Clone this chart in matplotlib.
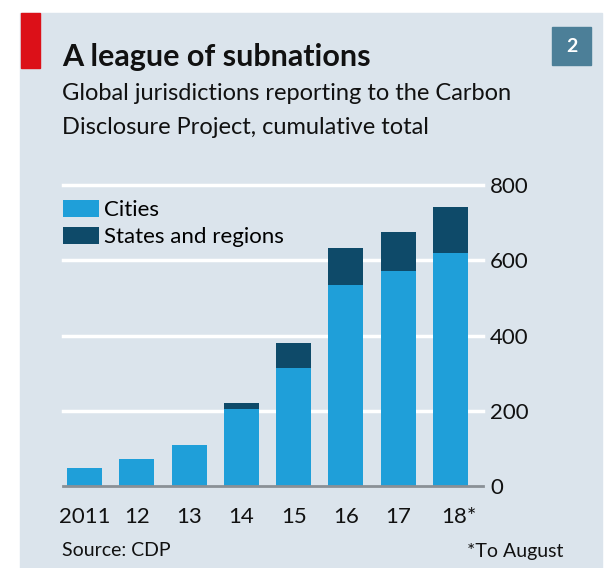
import matplotlib
matplotlib.use('Agg')
import matplotlib.pyplot as plt
import matplotlib.patches as mpatches
import matplotlib.transforms as mtransforms
from matplotlib import font_manager
import numpy as np

# Data
years = ['2011', '12', '13', '14', '15', '16', '17', '18*']
cities = [48, 72, 109, 205, 314, 535, 572, 620]
states = [0, 0, 0, 16, 66, 98, 103, 122]
yticks = [0, 200, 400, 600, 800]

# font: narrow one if we have it
installed = {f.name for f in font_manager.fontManager.ttflist}
FONT = 'Liberation Sans Narrow' if 'Liberation Sans Narrow' in installed else 'Lato'
plt.rcParams['font.family'] = [FONT, 'DejaVu Sans']

BG = '#dbe4ec'
CITY = '#1f9fd9'
STATE = '#0e4a69'
W, H = 605, 568

fig = plt.figure(figsize=(W / 100, H / 100), dpi=100)
fig.patch.set_facecolor('white')

# panel background, red tab, number badge
fig.patches.append(mpatches.Rectangle((20 / W, 0), 582 / W, 1 - 13 / H,
                                      transform=fig.transFigure, color=BG, zorder=-10))
fig.patches.append(mpatches.Rectangle((21 / W, 1 - 68 / H), 19 / W, 55 / H,
                                      transform=fig.transFigure, color='#dc1018', zorder=-5))
fig.patches.append(mpatches.Rectangle((552 / W, 1 - 65 / H), 39 / W, 38 / H,
                                      transform=fig.transFigure, color='#4c7f98', zorder=-5))
fig.text(571.5 / W, 1 - 46 / H, '2', color='white', fontsize=14, fontweight='bold',
         ha='center', va='center')

fig.text(62 / W, 1 - 57 / H, 'A league of subnations', fontsize=22, fontweight='bold',
         color='#111111', va='center')
fig.text(62 / W, 1 - 93 / H, 'Global jurisdictions reporting to the Carbon', fontsize=17,
         color='#111111', va='center')
fig.text(62 / W, 1 - 127 / H, 'Disclosure Project, cumulative total', fontsize=17,
         color='#111111', va='center')

ax = fig.add_axes([63 / W, 1 - 486 / H, 420 / W, 301 / H])
ax.set_facecolor('none')
x = np.arange(len(years))
ax.bar(x, cities, width=0.67, color=CITY, label='Cities', zorder=3)
ax.bar(x, states, width=0.67, bottom=cities, color=STATE, label='States and regions', zorder=3)

ax.set_xlim(-0.41, 7.62)
ax.set_ylim(0, 800)
ax.set_yticks(yticks)
ax.yaxis.tick_right()
ax.tick_params(axis='y', length=0, pad=5, labelsize=16, labelcolor='#111111')
ax.tick_params(axis='x', length=0, pad=15, labelsize=16, labelcolor='#111111')
ax.set_xticks(x)
ax.set_xticklabels(years)
# the asterisk hangs off to the right, "18" stays centred
last = ax.get_xticklabels()[-1]
last.set_transform(last.get_transform() + mtransforms.ScaledTranslation(6 / 72, 0, fig.dpi_scale_trans))

for y in yticks[1:]:
    ax.axhline(y, color='white', lw=2.5, zorder=1, clip_on=False)
ax.axhline(0, color='#8a9096', lw=2, zorder=4, clip_on=False)
for s in ax.spines.values():
    s.set_visible(False)

ax.legend(loc='upper left', bbox_to_anchor=(0, 0.95), frameon=False, fontsize=16,
          handlelength=1.6, handleheight=0.8, handletextpad=0.25, labelspacing=0.3,
          borderpad=0, borderaxespad=0)

fig.text(62 / W, 1 - 551 / H, 'Source: CDP', fontsize=14, color='#111111', va='center')
fig.text(563 / W, 1 - 551 / H, '*To August', fontsize=14, color='#111111', va='center', ha='right')

fig.savefig('out.png', dpi=100, facecolor=fig.get_facecolor())
